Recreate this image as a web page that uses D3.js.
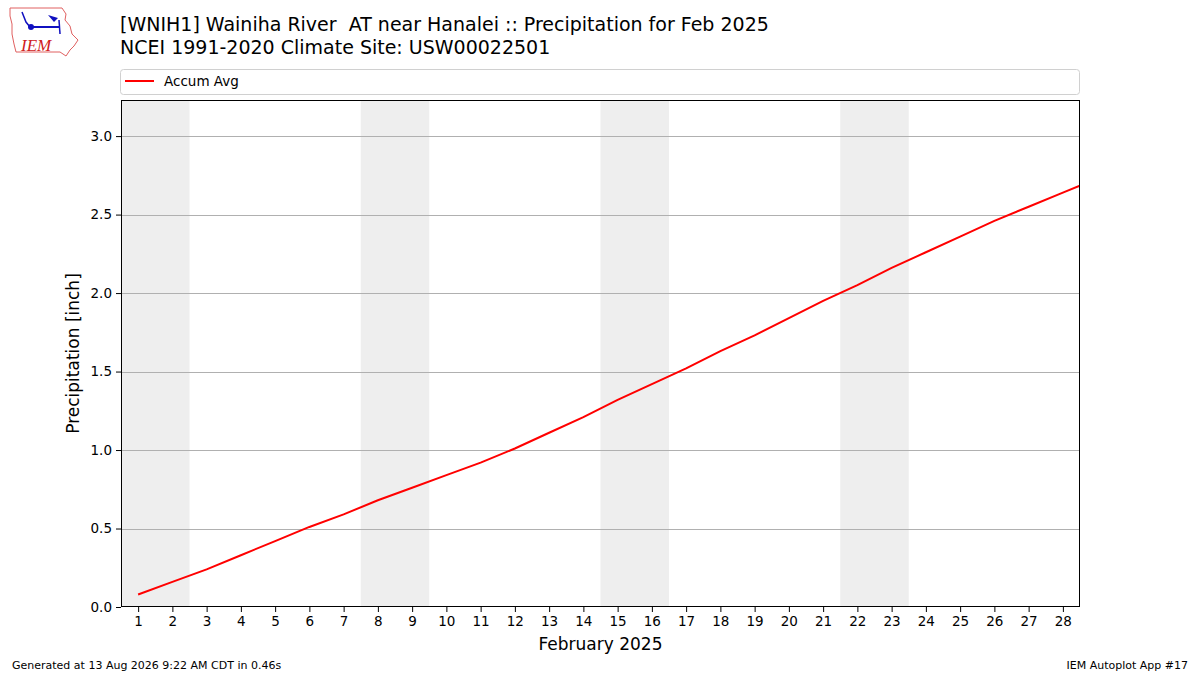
<!DOCTYPE html>
<meta charset="utf-8">
<head>
    <script src="https://d3js.org/d3.v7.min.js"></script>
    <style>
    body { margin: 0; background: white; font-family: "DejaVu Sans", sans-serif; }
    svg { display: block; }
    text { white-space: pre; }
    .tick text { font-size: 13.5px; font-family: "DejaVu Sans", sans-serif; }
    </style>
</head>
<body>
    <svg id="svgid" width="1200" height="675"></svg>

    <script>
        // daily accumulated average precipitation, inches (day 29 is clipped at the edge)
        var days = d3.range(1, 30);
        var accumAvg = [0.08, 0.16, 0.24, 0.33, 0.42, 0.51, 0.59, 0.68, 0.76, 0.84,
                        0.92, 1.01, 1.11, 1.21, 1.32, 1.42, 1.52, 1.63, 1.73, 1.84,
                        1.95, 2.05, 2.16, 2.26, 2.36, 2.46, 2.55, 2.64, 2.73];
        // weekend spans (Sat-Sun) in February 2025
        var weekends = [[1, 2], [8, 9], [15, 16], [22, 23]];
        var yTicks = [0, 0.5, 1.0, 1.5, 2.0, 2.5, 3.0];
        var xTicks = d3.range(1, 29);

        var svg = d3.select("#svgid");
        var pLeft = 121, pRight = 1080, pTop = 100, pBottom = 607;

        var x = d3.scaleLinear().domain([0.5, 28.5]).range([pLeft, pRight]);
        var y = d3.scaleLinear().domain([0, 3.23]).range([pBottom, pTop]);

        svg.append("defs").append("clipPath").attr("id", "plotclip")
            .append("rect").attr("x", pLeft).attr("y", pTop)
            .attr("width", pRight - pLeft).attr("height", pBottom - pTop);

        // weekend shading
        svg.append("g").selectAll("rect").data(weekends).enter().append("rect")
            .attr("x", function(d) { return x(d[0] - 0.5); })
            .attr("y", pTop)
            .attr("width", function(d) { return x(d[1] + 0.5) - x(d[0] - 0.5); })
            .attr("height", pBottom - pTop)
            .style("fill", "#eeeeee");

        // horizontal grid
        svg.append("g").selectAll("line").data(yTicks.slice(1)).enter().append("line")
            .attr("x1", pLeft).attr("x2", pRight)
            .attr("y1", function(d) { return Math.round(y(d)) + 0.5; })
            .attr("y2", function(d) { return Math.round(y(d)) + 0.5; })
            .style("stroke", "#b0b0b0").style("stroke-width", 1);

        // the line
        var line = d3.line()
            .x(function(d, i) { return x(days[i]); })
            .y(function(d) { return y(d); });
        svg.append("path")
            .datum(accumAvg)
            .attr("d", line)
            .attr("clip-path", "url(#plotclip)")
            .style("fill", "none")
            .style("stroke", "red")
            .style("stroke-width", 2);

        // frame
        svg.append("rect")
            .attr("x", pLeft + 0.5).attr("y", pTop + 0.5)
            .attr("width", pRight - pLeft - 1).attr("height", pBottom - pTop - 1)
            .style("fill", "none").style("stroke", "black").style("stroke-width", 1);

        // axes
        var xAxis = d3.axisBottom(x).tickValues(xTicks).tickSize(5).tickPadding(4)
            .tickFormat(d3.format("d"));
        svg.append("g").attr("transform", "translate(0," + pBottom + ")").call(xAxis)
            .call(function(g) { g.select(".domain").remove(); });

        var yAxis = d3.axisLeft(y).tickValues(yTicks).tickSize(5).tickPadding(4)
            .tickFormat(d3.format(".1f"));
        svg.append("g").attr("transform", "translate(" + pLeft + ",0)").call(yAxis)
            .call(function(g) { g.select(".domain").remove(); });

        svg.selectAll(".tick text").style("fill", "black");

        // axis labels
        svg.append("text")
            .attr("x", (pLeft + pRight) / 2).attr("y", 650)
            .attr("text-anchor", "middle")
            .style("font-size", "17px")
            .text("February 2025");

        svg.append("text")
            .attr("transform", "translate(79," + ((pTop + pBottom) / 2) + ") rotate(-90)")
            .attr("text-anchor", "middle")
            .style("font-size", "17px")
            .text("Precipitation [inch]");

        // titles
        svg.append("text").attr("x", 120).attr("y", 31)
            .style("font-size", "19px")
            .text("[WNIH1] Wainiha River  AT near Hanalei :: Precipitation for Feb 2025");
        svg.append("text").attr("x", 120).attr("y", 54)
            .style("font-size", "19px")
            .text("NCEI 1991-2020 Climate Site: USW00022501");

        // legend
        svg.append("rect")
            .attr("x", 120.5).attr("y", 69.5).attr("width", 959).attr("height", 25)
            .attr("rx", 3)
            .style("fill", "white").style("stroke", "#d0d0d0");
        svg.append("line")
            .attr("x1", 125).attr("x2", 154).attr("y1", 81).attr("y2", 81)
            .style("stroke", "red").style("stroke-width", 2);
        svg.append("text").attr("x", 164).attr("y", 86)
            .style("font-size", "13.5px")
            .text("Accum Avg");

        // footer
        svg.append("text").attr("x", 12).attr("y", 669)
            .style("font-size", "11px")
            .text("Generated at 13 Aug 2026 9:22 AM CDT in 0.46s");
        svg.append("text").attr("x", 1188).attr("y", 669)
            .attr("text-anchor", "end")
            .style("font-size", "11px")
            .text("IEM Autoplot App #17");

        // IEM logo, rough
        var logo = svg.append("g");
        logo.append("path")
            .attr("d", "M10,8 L62,8 L66,14 L65,20 L70,26 L72,34 L78,40 L74,46 L70,50 L66,56 L60,52 L16,52 L14,44 L12,34 L12,24 L10,16 Z")
            .style("fill", "none").style("stroke", "#e06060").style("stroke-width", 1);
        logo.append("line").attr("x1", 30).attr("x2", 60).attr("y1", 27).attr("y2", 27)
            .style("stroke", "#1010c0").style("stroke-width", 2);
        logo.append("circle").attr("cx", 31).attr("cy", 27).attr("r", 3).style("fill", "#1010c0");
        logo.append("path").attr("d", "M48,15 L58,18 L54,22 Z").style("fill", "#1010c0");
        logo.append("path").attr("d", "M22,12 L26,22 L30,27").style("fill", "none")
            .style("stroke", "#1010c0").style("stroke-width", 1.5);
        logo.append("line").attr("x1", 59).attr("x2", 60).attr("y1", 20).attr("y2", 34)
            .style("stroke", "#1010c0").style("stroke-width", 1.5);
        logo.append("text").attr("x", 21).attr("y", 51)
            .style("font-family", "'Liberation Serif', serif")
            .style("font-style", "italic")
            .style("font-size", "17px")
            .style("fill", "#d02020")
            .text("IEM");
    </script>
</body>
